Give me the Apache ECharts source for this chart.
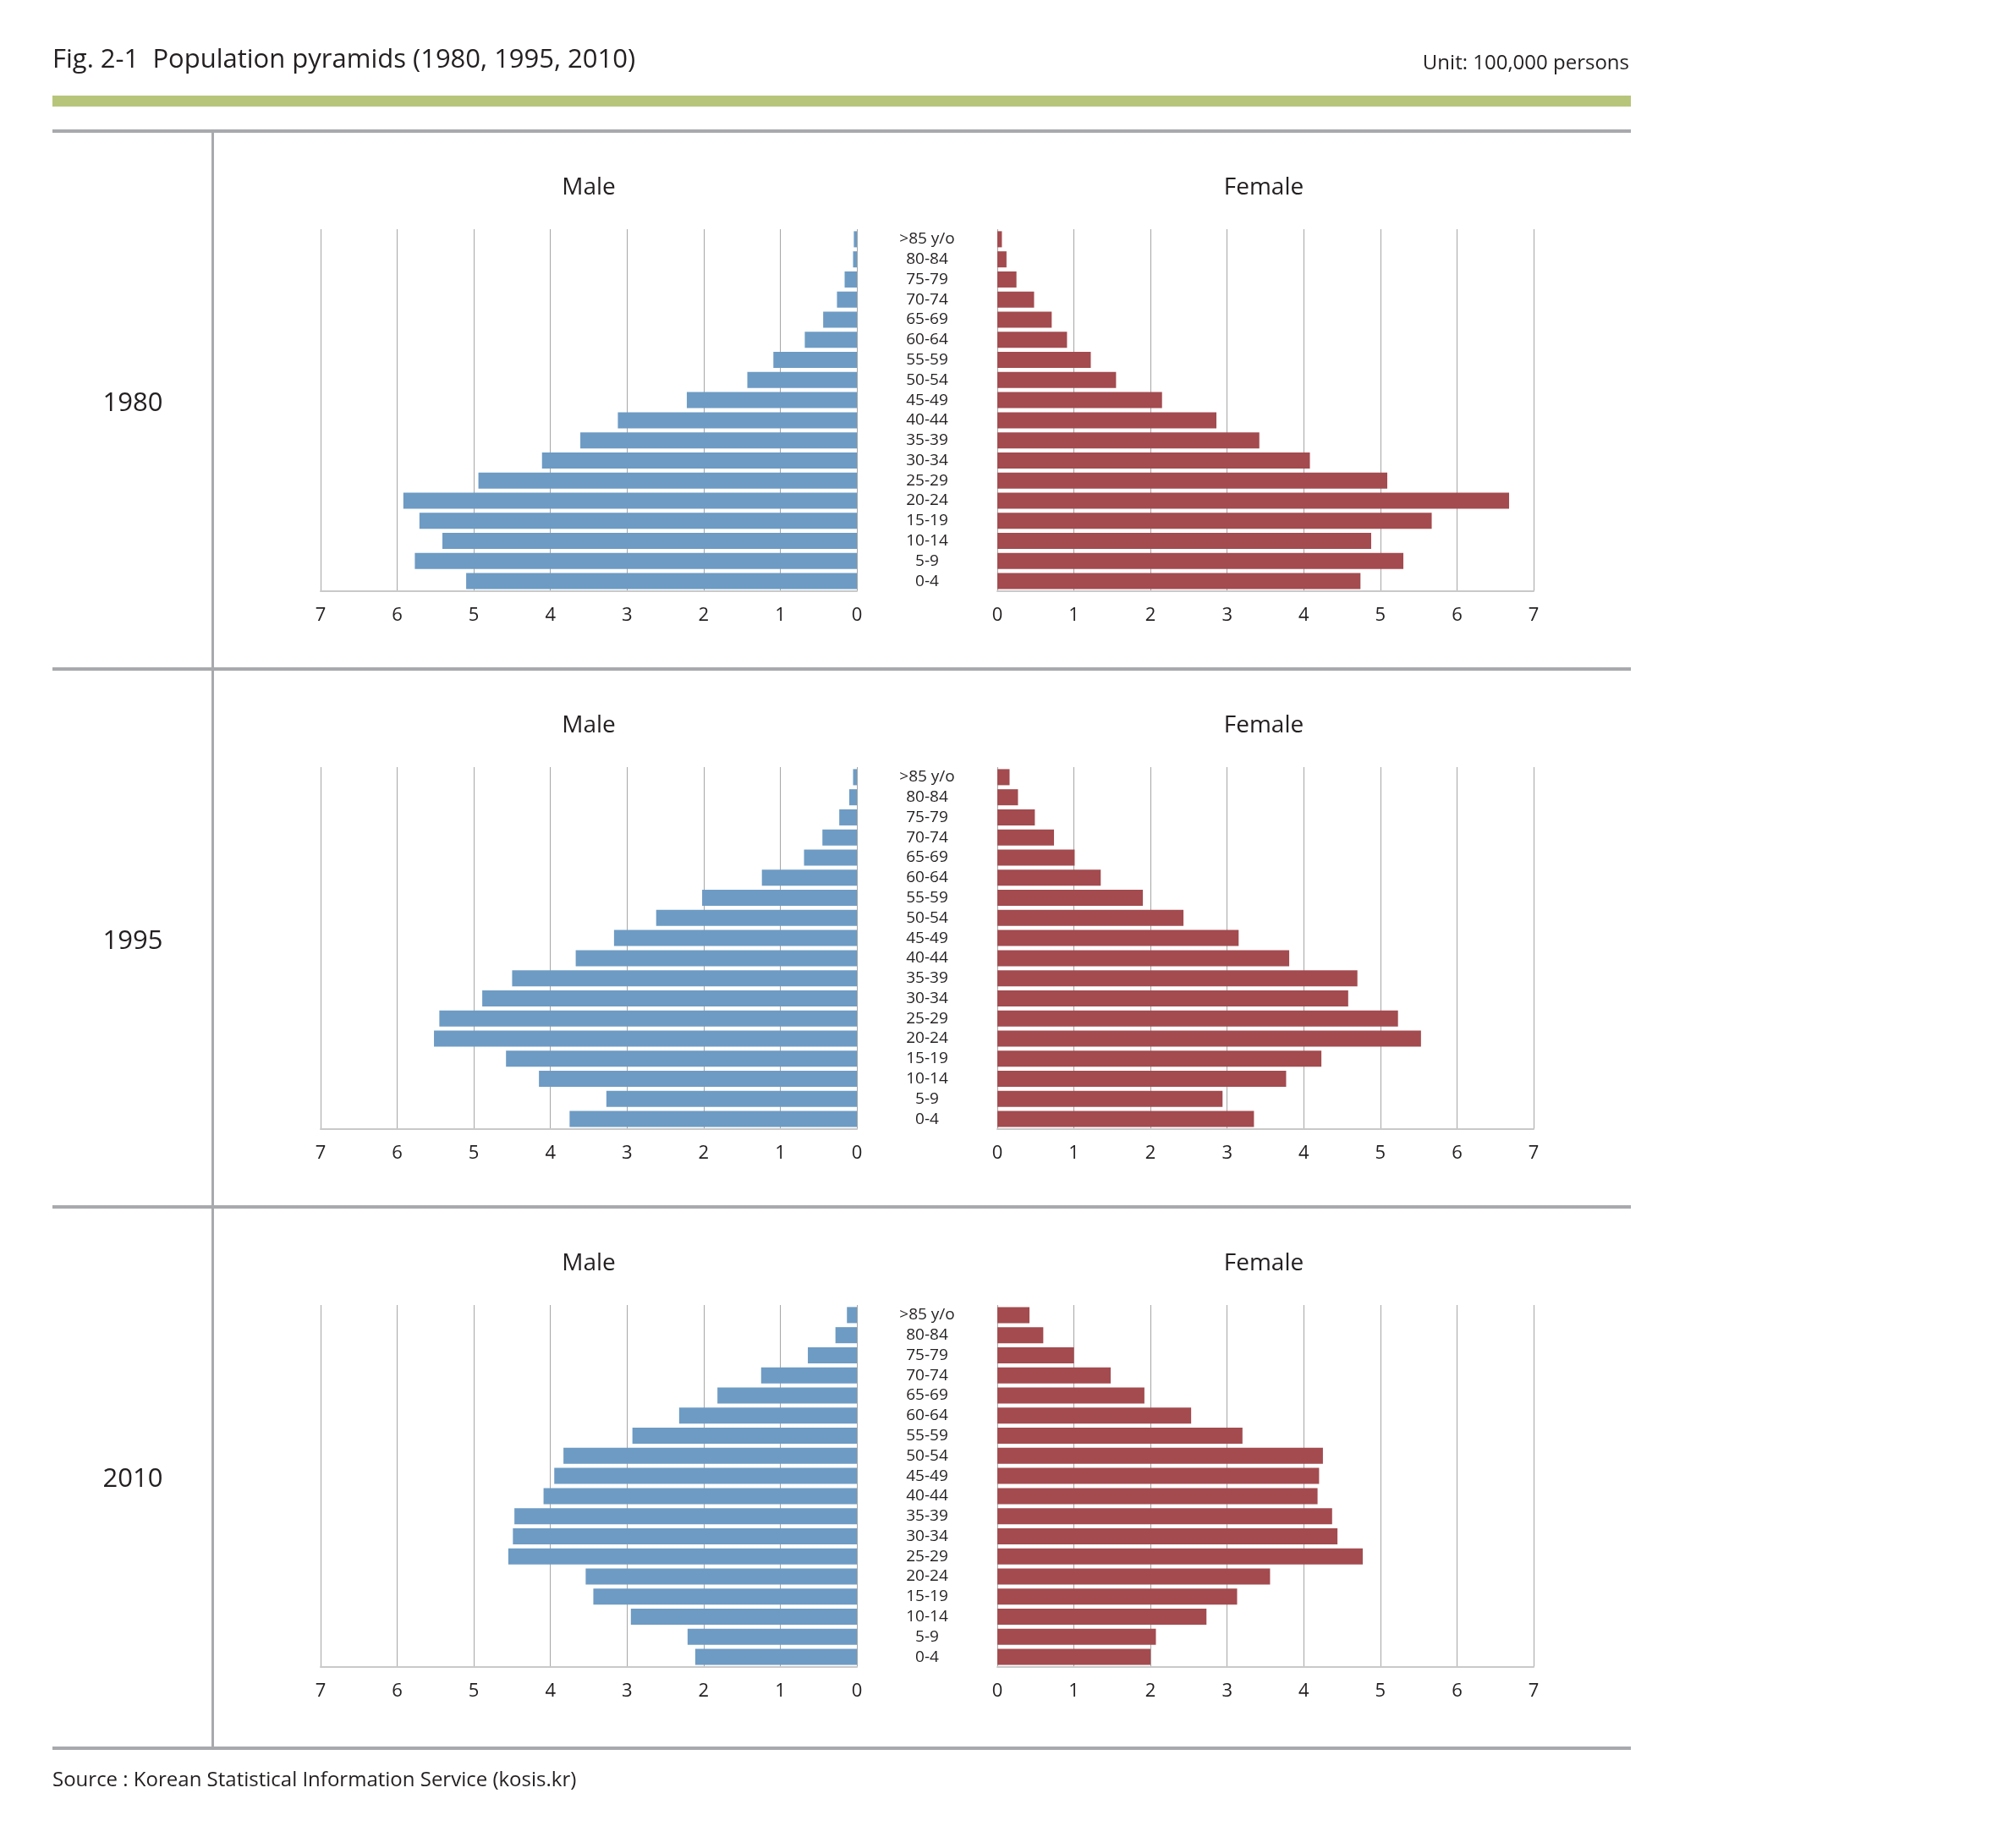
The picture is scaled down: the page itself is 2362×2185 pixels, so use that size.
<!DOCTYPE html>
<html>
<head>
<meta charset="utf-8">
<script src="https://cdn.jsdelivr.net/npm/echarts@6/dist/echarts.min.js"></script>
<style>
html,body{margin:0;padding:0;background:#fff;}
#chart{width:2362px;height:2185px;}
</style>
</head>
<body>
<div id="chart"></div>
<script>
// Age groups, youngest first (drawn bottom to top)
const ageGroups = ['0-4','5-9','10-14','15-19','20-24','25-29','30-34','35-39','40-44','45-49','50-54','55-59','60-64','65-69','70-74','75-79','80-84','>85 y/o'];
const years = ['1980', '1995', '2010'];

// Unit: 100,000 persons
const male1980   = [5.10,5.77,5.41,5.71,5.92,4.94,4.11,3.61,3.12,2.22,1.43,1.09,0.68,0.44,0.26,0.16,0.05,0.04];
const female1980 = [4.74,5.30,4.88,5.67,6.68,5.09,4.08,3.42,2.86,2.15,1.55,1.22,0.91,0.71,0.48,0.25,0.12,0.06];
const male1995   = [3.75,3.27,4.15,4.58,5.52,5.45,4.89,4.50,3.67,3.17,2.62,2.02,1.24,0.69,0.45,0.23,0.10,0.05];
const female1995 = [3.35,2.94,3.77,4.23,5.53,5.23,4.58,4.70,3.81,3.15,2.43,1.90,1.35,1.01,0.74,0.49,0.27,0.16];
const male2010   = [2.11,2.21,2.95,3.44,3.54,4.55,4.49,4.47,4.09,3.95,3.83,2.93,2.32,1.82,1.25,0.64,0.28,0.13];
const female2010 = [2.00,2.07,2.73,3.13,3.56,4.77,4.44,4.37,4.18,4.20,4.25,3.20,2.53,1.92,1.48,1.00,0.60,0.42];

const maleData = [male1980, male1995, male2010];
const femaleData = [female1980, female1995, female2010];

const axisMin = 0, axisMax = 7, axisInterval = 1;

const FONT = '"Open Sans", "Noto Sans", sans-serif';
const TEXT = '#231f20';
const MALE_COLOR = '#6d9bc4';
const FEMALE_COLOR = '#a34b4f';

const panelTops = [271, 907, 1543];
const gridH = 428;
const maleLeft = 379, maleW = 634;
const femaleLeft = 1179, femaleW = 634;

const grids = [], xAxes = [], yAxes = [], series = [];
const graphics = [];

function valueAxis(idx, inverse) {
  return {
    type: 'value', gridIndex: idx, min: axisMin, max: axisMax, interval: axisInterval,
    inverse: inverse,
    axisLine: {show: true, lineStyle: {color: '#c9c9c9', width: 2}},
    axisTick: {show: false},
    splitLine: {show: true, lineStyle: {color: '#a6a6a6', width: 1}},
    axisLabel: {fontSize: 22, color: TEXT, fontFamily: FONT, margin: 18}
  };
}

years.forEach((yr, p) => {
  const top = panelTops[p];
  const gi = p * 2;
  grids.push({left: maleLeft, top: top, width: maleW, height: gridH});
  grids.push({left: femaleLeft, top: top, width: femaleW, height: gridH});
  xAxes.push(valueAxis(gi, true));
  xAxes.push(valueAxis(gi + 1, false));
  yAxes.push({
    type: 'category', gridIndex: gi, data: ageGroups, position: 'right',
    axisLine: {show: false}, axisTick: {show: false}, axisLabel: {show: false}, splitLine: {show: false}
  });
  yAxes.push({
    type: 'category', gridIndex: gi + 1, data: ageGroups, position: 'left',
    axisLine: {show: false}, axisTick: {show: false}, splitLine: {show: false},
    axisLabel: {show: true, interval: 0, align: 'center', margin: 83, fontSize: 19, color: TEXT, fontFamily: FONT}
  });
  series.push({
    type: 'bar', name: 'Male ' + yr, xAxisIndex: gi, yAxisIndex: gi,
    data: maleData[p], barCategoryGap: '20%', itemStyle: {color: MALE_COLOR}, silent: true
  });
  series.push({
    type: 'bar', name: 'Female ' + yr, xAxisIndex: gi + 1, yAxisIndex: gi + 1,
    data: femaleData[p], barCategoryGap: '20%', itemStyle: {color: FEMALE_COLOR}, silent: true
  });
  graphics.push({type: 'text', x: 696, y: top - 49, style: {text: 'Male', fontSize: 28, fontFamily: FONT, fill: TEXT, align: 'center', verticalAlign: 'middle'}});
  graphics.push({type: 'text', x: 1494, y: top - 49, style: {text: 'Female', fontSize: 28, fontFamily: FONT, fill: TEXT, align: 'center', verticalAlign: 'middle'}});
  graphics.push({type: 'text', x: 157, y: top + gridH / 2 - 8, style: {text: yr, fontSize: 31, fontFamily: FONT, fill: TEXT, align: 'center', verticalAlign: 'middle'}});
});

// Frame lines and header
graphics.push({type: 'text', x: 62, y: 71, style: {text: 'Fig. 2-1  Population pyramids (1980, 1995, 2010)', fontSize: 31, fontFamily: FONT, fill: TEXT, align: 'left', verticalAlign: 'middle'}});
graphics.push({type: 'text', x: 1926, y: 75, style: {text: 'Unit: 100,000 persons', fontSize: 24, fontFamily: FONT, fill: TEXT, align: 'right', verticalAlign: 'middle'}});
graphics.push({type: 'rect', shape: {x: 62, y: 113, width: 1866, height: 13}, style: {fill: '#b7c57a'}});
[153, 789, 1425, 2065].forEach(y => {
  graphics.push({type: 'rect', shape: {x: 62, y: y, width: 1866, height: 4}, style: {fill: '#a7a9ac'}});
});
graphics.push({type: 'rect', shape: {x: 250, y: 157, width: 3, height: 1910}, style: {fill: '#a7a9ac'}});
graphics.push({type: 'text', x: 62, y: 2105, style: {text: 'Source : Korean Statistical Information Service (kosis.kr)', fontSize: 24, fontFamily: FONT, fill: TEXT, align: 'left', verticalAlign: 'middle'}});

const chart = echarts.init(document.getElementById('chart'), null, {renderer: 'canvas'});
chart.setOption({
  animation: false,
  backgroundColor: '#ffffff',
  grid: grids,
  xAxis: xAxes,
  yAxis: yAxes,
  series: series,
  graphic: graphics
});
</script>
</body>
</html>
